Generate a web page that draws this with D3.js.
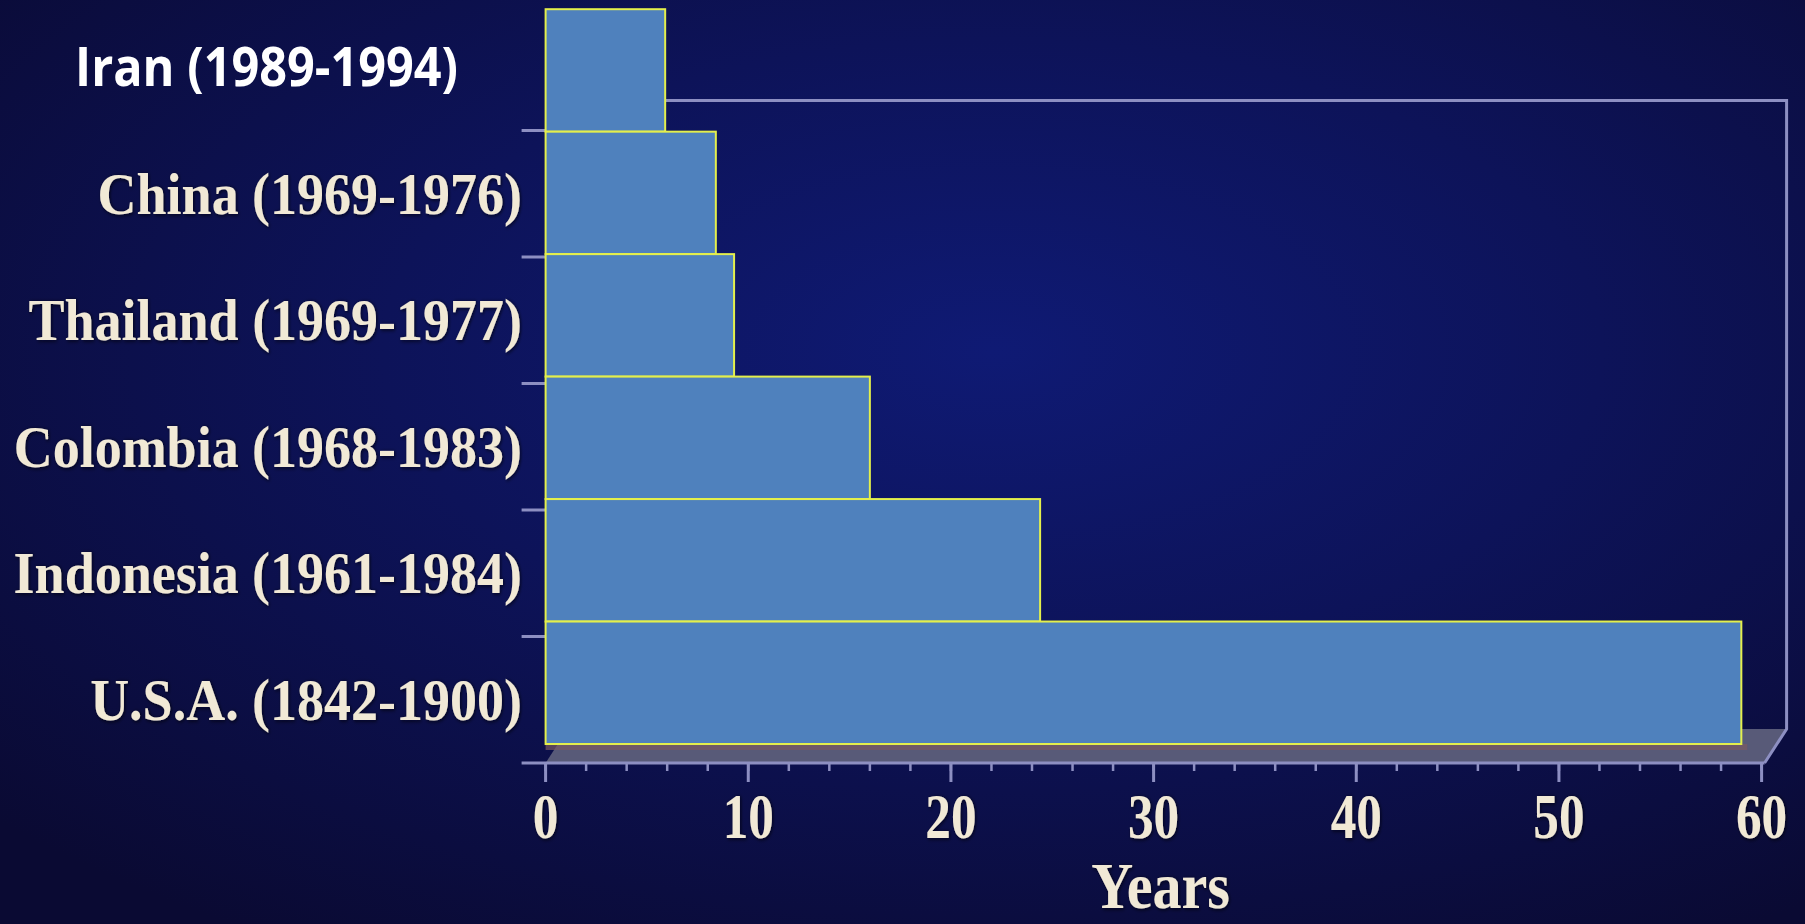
<!DOCTYPE html>
<html>
<head>
<meta charset="utf-8">
<script src="https://cdn.jsdelivr.net/npm/d3@7"></script>
<style>
  html, body { margin: 0; padding: 0; background: #0b0c3a; overflow: hidden; }
  svg { display: block; }
</style>
</head>
<body>
<script>
// ---- data ----
const categories = ["Iran (1989-1994)", "China (1969-1976)", "Thailand (1969-1977)", "Colombia (1968-1983)", "Indonesia (1961-1984)", "U.S.A. (1842-1900)"];
const years = [5.9, 8.4, 9.3, 16.0, 24.4, 59.0];
const xTicks = [0, 10, 20, 30, 40, 50, 60];
const xMinorTicks = d3.range(0, 61, 2);
const xTitle = "Years";

// ---- layout ----
const W = 1805, H = 924;
const svg = d3.select("body").append("svg").attr("width", W).attr("height", H);
const defs = svg.append("defs");

const bg = defs.append("radialGradient").attr("id", "bg")
  .attr("cx", "0.55").attr("cy", "0.38").attr("r", "0.75");
bg.append("stop").attr("offset", "0").attr("stop-color", "#0f1a74");
bg.append("stop").attr("offset", "0.45").attr("stop-color", "#0d1359");
bg.append("stop").attr("offset", "1").attr("stop-color", "#0a0a33");

const soft = defs.append("filter").attr("id", "soft").attr("x", "-10%").attr("y", "-20%").attr("width", "120%").attr("height", "140%");
soft.append("feGaussianBlur").attr("stdDeviation", 0.7);

const glow = defs.append("filter").attr("id", "glow").attr("x", "-10%").attr("y", "-30%").attr("width", "120%").attr("height", "160%");
glow.append("feGaussianBlur").attr("in", "SourceAlpha").attr("stdDeviation", 2).attr("result", "b");
glow.append("feOffset").attr("in", "b").attr("dx", 1).attr("dy", 1).attr("result", "o");
glow.append("feFlood").attr("flood-color", "#000010").attr("flood-opacity", 0.8);
glow.append("feComposite").attr("in2", "o").attr("operator", "in").attr("result", "s");
const gm = glow.append("feMerge");
gm.append("feMergeNode").attr("in", "s");
gm.append("feMergeNode").attr("in", "SourceGraphic");

svg.append("rect").attr("width", W).attr("height", H).attr("fill", "url(#bg)");

// scales
const x = d3.scaleLinear().domain([0, 60]).range([545.6, 1761.6]);
const yLab = d3.scaleBand().domain(categories).range([4, 763]).padding(0);
const yBar = d3.scaleBand().domain(categories).range([9.2, 744]).padding(0);
const depth = { dx: 22, dy: -34 };

const lineCol = "#8d8fc2";
const frame = svg.append("g").attr("filter", "url(#soft)");

// floor
const floorY = yLab.range()[1];
const x0 = x.range()[0], x1 = x.range()[1];
frame.append("polygon")
  .attr("points", [[x0, floorY], [x1 + 3, floorY], [x1 + 3 + depth.dx, floorY + depth.dy], [x0 + depth.dx, floorY + depth.dy]].map(p => p.join(",")).join(" "))
  .attr("fill", "#585a78");
frame.append("rect").attr("x", x0).attr("y", yBar.range()[1]).attr("width", x(years[5]) - x0 + 6).attr("height", 6).attr("fill", "#7a5a62").attr("opacity", 0.7);

// back wall top line and right wall edge
const wallTop = yLab(categories[1]) - 30;
frame.append("path")
  .attr("d", `M${x0 + depth.dx},${wallTop} H${x1 + 3 + depth.dx} V${floorY + depth.dy} L${x1 + 3},${floorY}`)
  .attr("fill", "none").attr("stroke", lineCol).attr("stroke-width", 3);

// x axis line and ticks
frame.append("line").attr("x1", x0 - 24).attr("x2", x1 + 3).attr("y1", floorY).attr("y2", floorY)
  .attr("stroke", lineCol).attr("stroke-width", 3);
frame.selectAll("line.minor").data(xMinorTicks).join("line").attr("class", "minor")
  .attr("x1", d => x(d)).attr("x2", d => x(d)).attr("y1", floorY).attr("y2", floorY + 8)
  .attr("stroke", lineCol).attr("stroke-width", 2.5);
frame.selectAll("line.major").data(xTicks).join("line").attr("class", "major")
  .attr("x1", d => x(d)).attr("x2", d => x(d)).attr("y1", floorY).attr("y2", floorY + 19)
  .attr("stroke", lineCol).attr("stroke-width", 3);

// y category separators
frame.selectAll("line.ysep").data(categories.slice(1)).join("line").attr("class", "ysep")
  .attr("x1", x0 - 24).attr("x2", x0).attr("y1", d => yLab(d)).attr("y2", d => yLab(d))
  .attr("stroke", lineCol).attr("stroke-width", 3);

// bars
svg.append("g").selectAll("rect").data(categories).join("rect")
  .attr("x", x(0))
  .attr("y", d => yBar(d))
  .attr("width", (d, i) => x(years[i]) - x(0))
  .attr("height", yBar.bandwidth())
  .attr("fill", "#4f81bd")
  .attr("stroke", "#e4ef4c")
  .attr("stroke-width", 2);

// category labels
const labG = svg.append("g");
categories.forEach((c, i) => {
  if (i === 0) {
    labG.append("text")
      .attr("transform", `translate(458, ${yLab(c) + yLab.bandwidth() / 2 + 19}) scale(0.9,1)`)
      .attr("text-anchor", "end")
      .attr("font-family", "'Open Sans', 'Noto Sans', sans-serif")
      .attr("font-weight", 700)
      .attr("font-size", 54)
      .attr("fill", "#ffffff")
      .text(c);
  } else {
    labG.append("text")
      .attr("transform", `translate(522, ${yLab(c) + yLab.bandwidth() / 2 + 20}) scale(0.9,1)`)
      .attr("text-anchor", "end")
      .attr("font-family", "'Liberation Serif', 'Times New Roman', serif")
      .attr("font-weight", 700)
      .attr("font-size", 60)
      .attr("fill", "#f1e9d6")
      .attr("filter", "url(#glow)")
      .text(c);
  }
});

// x tick labels
svg.append("g").selectAll("text").data(xTicks).join("text")
  .attr("transform", d => `translate(${x(d)}, 838) scale(0.8,1)`)
  .attr("text-anchor", "middle")
  .attr("font-family", "'Liberation Serif', 'Times New Roman', serif")
  .attr("font-weight", 700)
  .attr("font-size", 64)
  .attr("fill", "#f1e9d6")
  .attr("filter", "url(#glow)")
  .text(d => d);

// axis title
svg.append("text")
  .attr("transform", `translate(${(x(0) + x(60)) / 2 + 7}, 908) scale(0.88,1)`)
  .attr("text-anchor", "middle")
  .attr("font-family", "'Liberation Serif', 'Times New Roman', serif")
  .attr("font-weight", 700)
  .attr("font-size", 66)
  .attr("fill", "#f1e9d6")
  .attr("filter", "url(#glow)")
  .text(xTitle);
</script>
</body>
</html>
